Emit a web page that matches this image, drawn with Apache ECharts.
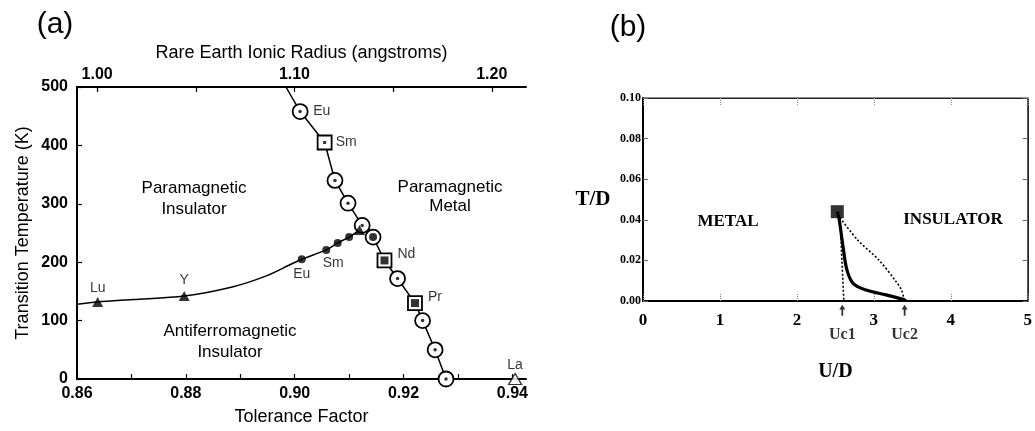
<!DOCTYPE html>
<html><head><meta charset="utf-8">
<script src="https://cdn.jsdelivr.net/npm/echarts@6/dist/echarts.min.js"></script>
<style>html,body{margin:0;padding:0;background:#fff}#c{width:1035px;height:431px}</style>
</head><body><div id="c"></div>
<script>
// ---------- Panel (a) data ----------
const tolLabels = [0.86, 0.88, 0.90, 0.92, 0.94];
const tolTicks = [0.86, 0.87, 0.88, 0.89, 0.90, 0.91, 0.92, 0.93, 0.94];
const radiusLabels = [1.00, 1.10, 1.20];
const radiusTicks = [1.00, 1.05, 1.10, 1.15, 1.20];
const tempLabels = [0, 100, 200, 300, 400, 500];

const upperCurve = [[0.8984,500],[0.9010,458],[0.9055,405],[0.9074,340],[0.9098,301],[0.9124,263],[0.9144,243],[0.9165,203],[0.9189,172],[0.9221,130],[0.9235,100],[0.9258,50],[0.9278,0]];
const lowerCurve = [[0.8600,128],[0.8638,132],[0.8703,136],[0.8797,142],[0.8887,158],[0.8949,177],[0.8992,196],[0.9013,205],[0.9058,221],[0.9079,233],[0.9100,243],[0.9119,255]];
const circleDotPts = [[0.9010,458],[0.9074,340],[0.9098,301],[0.9124,263],[0.9189,172],[0.9235,100],[0.9258,50],[0.9278,0]];
const circleFilledPts = [[0.9144,243]];
const squareDotPts = [[0.9055,405]];
const squareFilledPts = [[0.9165,203],[0.9221,130]];
const trianglePts = [[0.8638,132],[0.8797,142],[0.9119,255]];
const dotPts = [[0.9013,205],[0.9058,221],[0.9079,233],[0.9100,243]];
const openTrianglePts = [[0.9405,0]];
const elementNames = ['Eu','Sm','Nd','Pr','Lu','Y','Eu','Sm','La'];
const elementPts = [[0.9010,458],[0.9055,405],[0.9165,203],[0.9221,130],[0.8638,132],[0.8797,142],[0.9013,205],[0.9058,221],[0.9405,0]];

// ---------- Panel (b) data ----------
const uLabels = [0, 1, 2, 3, 4, 5];
const tdLabels = [0, 0.02, 0.04, 0.06, 0.08, 0.10];
const criticalPoint = [[2.525, 0.044]];
const solidBoundary = [[2.525,0.044],[2.55,0.040],[2.60,0.0267],[2.65,0.0153],[2.73,0.0087],[2.90,0.0054],[3.16,0.003],[3.38,0.0008],[3.42,0]];
const uc1Line = [[2.56,0.041],[2.585,0.02],[2.61,0]];
const uc2Line = [[2.56,0.041],[2.79,0.030],[3.07,0.020],[3.29,0.0095],[3.36,0.0054],[3.39,0.0013],[3.40,0]];
const ucNames = ['Uc1','Uc2'];
const ucValues = [2.59, 3.40];

// ---------- styles / layout ----------
const SANS = 'Liberation Sans, Arial, Helvetica, sans-serif';
const SERIF = 'Liberation Serif, Times New Roman, serif';
const labelOffsets = [[13,0,'left'],[11,0,'left'],[13,-6,'left'],[13,-6,'left'],[0,-14,'center'],[0,-16,'center'],[0,15,'center'],[7,13,'center'],[0,-14,'center']];

const black = '#000';
const chart = echarts.init(document.getElementById('c'), null, {renderer:'canvas'});

const option = {
  backgroundColor: '#fff',
  animation: false,
  grid: [
    {left: 77, top: 87, width: 449, height: 296},
    {left: 643, top: 98, width: 385, height: 203, show: true, borderColor: '#222', borderWidth: 1}
  ],
  xAxis: [
    {gridIndex:0, type:'value', position:'bottom', min:0.86, max:0.9425,
     axisLine:{show:true, onZero:false, lineStyle:{color:black, width:2}},
     axisTick:{show:true, inside:true, length:5, customValues: tolTicks, lineStyle:{color:black,width:1.2}},
     axisLabel:{customValues: tolLabels, formatter: v => v.toFixed(2), color:black, fontFamily:SANS, fontSize:16, fontWeight:'bold', margin:7},
     splitLine:{show:false},
     name:'Tolerance Factor', nameLocation:'middle', nameGap:29, nameTextStyle:{color:black, fontFamily:SANS, fontSize:18}},
    {gridIndex:0, type:'value', position:'top', min:0.98980, max:1.21735,
     axisLine:{show:true, onZero:false, lineStyle:{color:black, width:2}},
     axisTick:{show:true, inside:true, length:5, customValues: radiusTicks, lineStyle:{color:black,width:1.2}},
     axisLabel:{customValues: radiusLabels, formatter: v => v.toFixed(2), color:black, fontFamily:SANS, fontSize:16, fontWeight:'bold', margin:4},
     splitLine:{show:false},
     name:'Rare Earth Ionic Radius (angstroms)', nameLocation:'middle', nameGap:25, nameTextStyle:{color:black, fontFamily:SANS, fontSize:18}},
    {gridIndex:1, type:'value', position:'bottom', min:0, max:5, interval:1,
     axisLine:{show:true, onZero:false, lineStyle:{color:black, width:2}},
     axisTick:{show:true, inside:true, length:7, lineStyle:{color:'#888', width:1, type:'dotted'}},
     axisLabel:{color:black, fontFamily:SERIF, fontSize:17, fontWeight:'bold', margin:11},
     splitLine:{show:false},
     name:'U/D', nameLocation:'middle', nameGap:61, nameTextStyle:{color:black, fontFamily:SERIF, fontSize:20, fontWeight:'bold'}},
    {gridIndex:1, type:'value', position:'top', min:0, max:5, interval:1,
     axisLine:{show:true, onZero:false, lineStyle:{color:'#222', width:1}},
     axisTick:{show:true, inside:true, length:7, lineStyle:{color:'#888', width:1, type:'dotted'}},
     axisLabel:{show:false}, splitLine:{show:false}}
  ],
  yAxis: [
    {gridIndex:0, type:'value', min:0, max:500, interval:100,
     axisLine:{show:true, onZero:false, lineStyle:{color:black, width:2}},
     axisTick:{show:true, inside:true, length:5, lineStyle:{color:black,width:1.2}},
     axisLabel:{color:black, fontFamily:SANS, fontSize:16, fontWeight:'bold', margin:9},
     splitLine:{show:false},
     name:'Transition Temperature (K)', nameLocation:'middle', nameGap:45, nameTextStyle:{color:black, fontFamily:SANS, fontSize:18}},
    {gridIndex:1, type:'value', min:0, max:0.10, interval:0.02,
     axisLine:{show:true, onZero:false, lineStyle:{color:black, width:2}},
     axisTick:{show:true, inside:true, length:5, lineStyle:{color:'#666', width:1}},
     axisLabel:{formatter: v => v.toFixed(2), color:black, fontFamily:SERIF, fontSize:12, fontWeight:'bold', margin:2},
     splitLine:{show:false}},
    {gridIndex:1, type:'value', position:'right', min:0, max:0.10, interval:0.02,
     axisLine:{show:true, onZero:false, lineStyle:{color:'#222', width:1}},
     axisTick:{show:true, inside:true, length:5, lineStyle:{color:'#666', width:1}},
     axisLabel:{show:false}, splitLine:{show:false}}
  ],
  graphic: [
    {type:'text', x:55, y:25, style:{text:'(a)', fill:black, font:'30px '+SANS, align:'center', verticalAlign:'middle'}},
    {type:'text', x:628, y:28, style:{text:'(b)', fill:black, font:'30px '+SANS, align:'center', verticalAlign:'middle'}},
    {type:'text', x:194, y:199, style:{text:'Paramagnetic\nInsulator', fill:black, font:'17px '+SANS, align:'center', verticalAlign:'middle', lineHeight:21}},
    {type:'text', x:450, y:197, style:{text:'Paramagnetic\nMetal', fill:black, font:'17px '+SANS, align:'center', verticalAlign:'middle', lineHeight:19}},
    {type:'text', x:230, y:342, style:{text:'Antiferromagnetic\nInsulator', fill:black, font:'17px '+SANS, align:'center', verticalAlign:'middle', lineHeight:21}},
    {type:'text', x:593, y:200, style:{text:'T/D', fill:black, font:'bold 21px '+SERIF, align:'center', verticalAlign:'middle'}},
    {type:'text', x:728, y:222, style:{text:'METAL', fill:black, font:'bold 17px '+SERIF, align:'center', verticalAlign:'middle'}},
    {type:'text', x:953, y:220, style:{text:'INSULATOR', fill:black, font:'bold 17px '+SERIF, align:'center', verticalAlign:'middle'}}
  ],
  series: []
};

const A = {xAxisIndex:0, yAxisIndex:0};
const B = {xAxisIndex:2, yAxisIndex:1};
const S = option.series;
S.push(Object.assign({type:'line', data:upperCurve, showSymbol:false, symbol:'none', lineStyle:{color:black, width:1.5}, z:1, silent:true}, A));
S.push(Object.assign({type:'line', data:lowerCurve, smooth:0.3, showSymbol:false, symbol:'none', lineStyle:{color:black, width:1.5}, z:1, silent:true}, A));
S.push(Object.assign({type:'scatter', data:circleDotPts.concat(circleFilledPts), symbol:'circle', symbolSize:15, itemStyle:{color:'#fff', borderColor:black, borderWidth:1.8, opacity:1}, z:3}, A));
S.push(Object.assign({type:'scatter', data:circleDotPts, symbol:'circle', symbolSize:3.5, itemStyle:{color:black}, z:4}, A));
S.push(Object.assign({type:'scatter', data:circleFilledPts, symbol:'circle', symbolSize:8, itemStyle:{color:black}, z:4}, A));
S.push(Object.assign({type:'scatter', data:squareDotPts.concat(squareFilledPts), symbol:'rect', symbolSize:14, itemStyle:{color:'#fff', borderColor:black, borderWidth:1.8, opacity:1}, z:3}, A));
S.push(Object.assign({type:'scatter', data:squareDotPts, symbol:'rect', symbolSize:3, itemStyle:{color:black}, z:4}, A));
S.push(Object.assign({type:'scatter', data:squareFilledPts, symbol:'rect', symbolSize:8, itemStyle:{color:black}, z:4}, A));
S.push(Object.assign({type:'scatter', data:trianglePts, symbol:'triangle', symbolSize:[11,10], itemStyle:{color:black}, z:5}, A));
S.push(Object.assign({type:'scatter', data:dotPts, symbol:'circle', symbolSize:8, itemStyle:{color:black}, z:4}, A));
S.push(Object.assign({type:'scatter', data:openTrianglePts, symbol:'triangle', symbolSize:[13,11], clip:false, itemStyle:{color:'#fff', borderColor:black, borderWidth:1.3}, z:5}, A));
S.push(Object.assign({type:'scatter', clip:false, symbolSize:1, itemStyle:{color:'rgba(0,0,0,0)'}, z:6,
  data: elementPts.map((p,i)=>({value:p, name:elementNames[i],
    label:{show:true, formatter:elementNames[i], position:'inside', offset:[labelOffsets[i][0], labelOffsets[i][1]], align:labelOffsets[i][2], verticalAlign:'middle', color:black, fontFamily:SANS, fontSize:14}}))}, A));

// panel (b)
S.push(Object.assign({type:'line', data:uc1Line, symbol:'none', lineStyle:{color:black, width:1.6, type:[2,2]}, z:2}, B));
S.push(Object.assign({type:'line', data:uc2Line, smooth:0.3, symbol:'none', lineStyle:{color:black, width:1.6, type:[2,2]}, z:2}, B));
S.push(Object.assign({type:'line', data:solidBoundary, smooth:0.35, symbol:'none', lineStyle:{color:black, width:3.2}, z:3}, B));
S.push(Object.assign({type:'scatter', data:criticalPoint, symbol:'rect', symbolSize:13, itemStyle:{color:black}, z:4}, B));
S.push(Object.assign({type:'scatter', clip:false, symbol:'path://M5,0 L10,7 L6.5,7 L6.5,16 L3.5,16 L3.5,7 L0,7 Z', symbolSize:[6,11], itemStyle:{color:black}, z:4,
  data: ucValues.map((u,i)=>({value:[u,-0.0045], name:ucNames[i],
    label:{show:true, formatter:ucNames[i], position:'bottom', distance:11, color:black, fontFamily:SERIF, fontSize:16, fontWeight:'bold'}}))}, B));

chart.setOption(option);
</script></body></html>
